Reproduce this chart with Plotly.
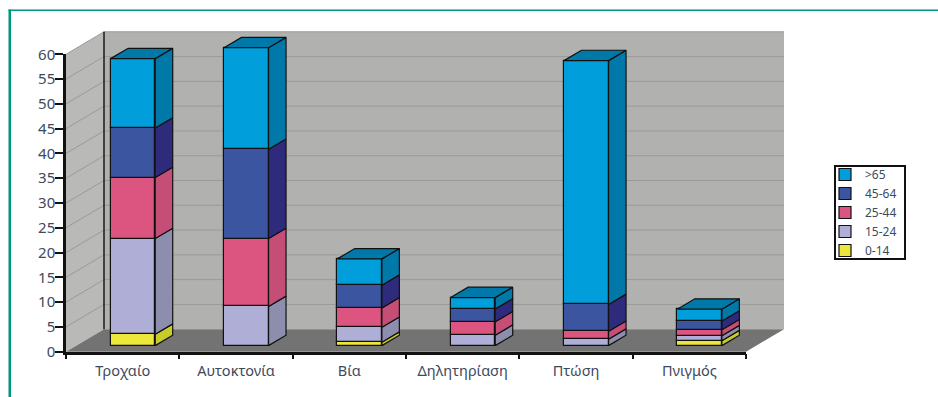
import plotly.graph_objects as go

W, H = 938, 397
categories = ["Τροχαίο", "Αυτοκτονία", "Βία", "Δηλητηρίαση", "Πτώση", "Πνιγμός"]
series_names = ["0-14", "15-24", "25-44", "45-64", ">65"]
v_0_14 = [2.3, 0, 0.7, 0, 0, 1.0]
v_15_24 = [19.3, 7.9, 3.0, 2.1, 1.3, 1.0]
v_25_44 = [12.3, 13.7, 3.9, 2.7, 1.6, 1.2]
v_45_64 = [10.0, 18.0, 4.6, 2.6, 5.4, 1.75]
v_65 = [14.0, 20.5, 5.3, 2.3, 49.2, 2.4]
series_values = [v_0_14, v_15_24, v_25_44, v_45_64, v_65]
front_colors = ["#ece73a", "#afaed6", "#dc5580", "#3c55a0", "#009fdc"]
side_colors = ["#c8cc28", "#8d8dae", "#c44e76", "#2e2b7d", "#0079a8"]
y_ticks = list(range(0, 61, 5))

# pixel geometry of the plot box
X0, X1, Y0, Y60 = 66, 746, 351.7, 54.3
pxc = (X1 - X0) / 6
pxv = (Y0 - Y60) / 60
DDX = 38 / pxc      # full depth of the box, in category units
DDY = 22.5 / pxv    # full depth of the box, in value units
D_FRONT, D_BACK = 0.27, 0.73
HALF = 22.3 / pxc
left, right = -0.5, 5.5


def dep(x, y, d):
    return x + DDX * d, y + DDY * d


def path(points):
    return "M" + " L".join(f"{x},{y}" for x, y in points) + " Z"


shapes = []
# walls and floor
shapes.append(dict(type="path", xref="x", yref="y", layer="below", line_width=0, fillcolor="#b9bab8",
                   path=path([dep(left, 0, 0), dep(left, 60, 0), dep(left, 60, 1), dep(left, 0, 1)])))
shapes.append(dict(type="path", xref="x", yref="y", layer="below", line_width=0, fillcolor="#b1b2b0",
                   path=path([dep(left, 0, 1), dep(left, 60, 1), dep(right, 60, 1), dep(right, 0, 1)])))
for v in y_ticks[1:]:
    a, b, c = dep(left, v, 0), dep(left, v, 1), dep(right, v, 1)
    shapes.append(dict(type="path", xref="x", yref="y", layer="below", line=dict(color="#9a9b99", width=1),
                       path="M" + " L".join(f"{p[0]},{p[1]}" for p in (a, b, c))))
shapes.append(dict(type="path", xref="x", yref="y", layer="below", line_width=0, fillcolor="#737373",
                   path=path([dep(left, 0, 0), dep(left, 0, 1), dep(right, 0, 1), dep(right, 0, 0)])))
bx, by0 = dep(left, 0, 1)
_, by1 = dep(left, 60, 1)
shapes.append(dict(type="line", xref="x", yref="y", layer="below", x0=bx, x1=bx, y0=by0, y1=by1,
                   line=dict(color="#1a1a1a", width=1.5)))
# teal frame
TEAL = "#00957f"
shapes.append(dict(type="rect", xref="paper", yref="paper", x0=8.5 / W, x1=11 / W, y0=0, y1=1 - 9.5 / H,
                   line_width=0, fillcolor=TEAL))
shapes.append(dict(type="rect", xref="paper", yref="paper", x0=8.5 / W, x1=1, y0=1 - 11 / H, y1=1 - 9.5 / H,
                   line_width=0, fillcolor=TEAL))
# legend frame
shapes.append(dict(type="rect", xref="paper", yref="paper", x0=835 / W, x1=905 / W, y0=1 - 259 / H, y1=1 - 166 / H,
                   line=dict(color="#111", width=2), fillcolor="rgba(0,0,0,0)"))

fig = go.Figure()
fx, fy = dep(0, 0, D_FRONT)
for idx, (name, vals, col) in enumerate(zip(series_names, series_values, front_colors)):
    bases = [sum(series_values[k][i] for k in range(idx)) + fy for i in range(6)]
    fig.add_trace(go.Bar(x=[i + fx for i in range(6)], y=vals, base=bases, width=2 * HALF, name=name,
                         marker=dict(color=col, line=dict(color="#111", width=1.2)),
                         xaxis="x", yaxis="y", hoverinfo="skip"))

for idx, (name, vals, col) in enumerate(zip(series_names, series_values, side_colors)):
    xs, ys = [], []
    for i, v in enumerate(vals):
        if not v:
            continue
        lo = sum(series_values[k][i] for k in range(idx))
        hi = lo + v
        xr = i + HALF
        pts = [dep(xr, lo, D_FRONT), dep(xr, hi, D_FRONT), dep(xr, hi, D_BACK), dep(xr, lo, D_BACK), dep(xr, lo, D_FRONT)]
        xs += [p[0] for p in pts] + [None]
        ys += [p[1] for p in pts] + [None]
    fig.add_trace(go.Scatter(x=xs, y=ys, mode="lines", fill="toself", fillcolor=col,
                             line=dict(color="#111", width=1.2), showlegend=False, hoverinfo="skip"))

xs, ys = [], []
for i in range(6):
    t = sum(series_values[k][i] for k in range(5))
    pts = [dep(i - HALF, t, D_FRONT), dep(i - HALF, t, D_BACK), dep(i + HALF, t, D_BACK),
           dep(i + HALF, t, D_FRONT), dep(i - HALF, t, D_FRONT)]
    xs += [p[0] for p in pts] + [None]
    ys += [p[1] for p in pts] + [None]
fig.add_trace(go.Scatter(x=xs, y=ys, mode="lines", fill="toself", fillcolor=side_colors[4],
                         line=dict(color="#111", width=1.2), showlegend=False, hoverinfo="skip"))

# carrier of the visible axes
fig.add_trace(go.Scatter(x=categories, y=[None] * 6, xaxis="x2", yaxis="y2", showlegend=False, hoverinfo="skip"))

FONT = "Noto Sans"
TXT = "#3d4a5e"
fig.update_layout(
    width=W, height=H, margin=dict(l=0, r=0, t=0, b=0, autoexpand=False), paper_bgcolor="white",
    plot_bgcolor="rgba(0,0,0,0)",
    barmode="overlay", bargap=0, shapes=shapes, autosize=False,
    font=dict(family=FONT, size=13, color=TXT),
    xaxis=dict(visible=False, domain=[0, 1], range=[-0.5 - X0 / pxc, -0.5 + (W - X0) / pxc], fixedrange=True),
    yaxis=dict(visible=False, domain=[0, 1], range=[(Y0 - H) / pxv, Y0 / pxv], fixedrange=True),
    xaxis2=dict(domain=[X0 / W, X1 / W], anchor="y2", type="category", categoryorder="array", categoryarray=categories,
                tickson="boundaries", ticks="outside", ticklen=5, tickwidth=2, tickcolor="#111",
                showline=True, linecolor="#111", linewidth=2.5, showgrid=False, zeroline=False,
                range=[-0.5, 5.5], tickfont=dict(size=14.5, color=TXT), ticklabelstandoff=4, fixedrange=True),
    yaxis2=dict(domain=[(H - Y0) / H, (H - Y60) / H], anchor="x2", range=[0, 60], tickvals=y_ticks,
                ticks="outside", ticklen=8, tickwidth=2, tickcolor="#111",
                showline=True, linecolor="#111", linewidth=2.5, showgrid=False, zeroline=False,
                tickfont=dict(size=15, color=TXT), ticklabelstandoff=-3, fixedrange=True),
    legend=dict(x=837 / W, y=1 - 212.5 / H, xanchor="left", yanchor="middle", traceorder="reversed",
                borderwidth=0, bgcolor="rgba(0,0,0,0)", font=dict(size=12, color=TXT),
                indentation=-12, tracegroupgap=0),
)
fig.write_html("out.html", config={"displayModeBar": False},
               post_script="document.body.style.margin='0';document.body.style.overflow='hidden';")
